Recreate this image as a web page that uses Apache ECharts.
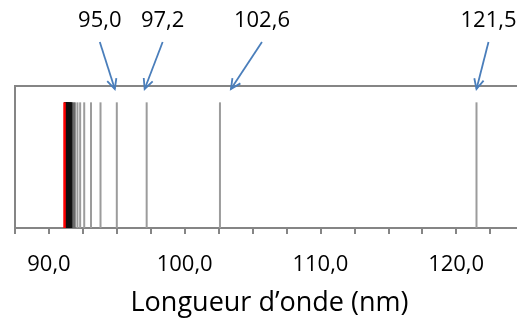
<!DOCTYPE html>
<html>
<head>
<meta charset="utf-8">
<script src="https://cdn.jsdelivr.net/npm/echarts@6/dist/echarts.min.js"></script>
<style>
  html, body { margin: 0; padding: 0; background: #fff; }
  #chart { width: 517px; height: 322px; }
</style>
</head>
<body>
<div id="chart"></div>
<script>
// raies de la série de Lyman (nm)
const raies = [121.5, 102.6, 97.2, 95.0, 93.8, 93.1, 92.6, 92.3, 92.1, 91.9, 91.8,
  91.7, 91.65, 91.6, 91.55, 91.5, 91.45, 91.42, 91.39, 91.36, 91.33, 91.3, 91.28,
  91.26, 91.24, 91.22, 91.2, 91.18];
const limite = [91.15];
const annotees = [95.0, 97.2, 102.6, 121.5];
const ticksLabels = [90, 100, 110, 120];

const fmt = v => v.toFixed(1).replace('.', ',');

// décalages des étiquettes / pointes de flèche (px)
const labelDx = [-17, 16, 42, 12];
const tipDx = [-2, -2, 11, 0];

const chart = echarts.init(document.getElementById('chart'));

function raieColor(v) {
  if (v < 91.7) return '#111111';
  if (v < 92.0) return '#6a6a6a';
  return '#9c9c9c';
}

function renderRaie(color, width) {
  return function (params, api) {
    const v = api.value(0);
    const p0 = api.coord([v, 0]);
    const p1 = api.coord([v, 1]);
    return {
      type: 'line',
      shape: { x1: p0[0], y1: p0[1], x2: p1[0], y2: p1[1] },
      style: { stroke: color || raieColor(v), lineWidth: width }
    };
  };
}

function renderAnnot(params, api) {
  const i = params.dataIndex;
  const v = api.value(0);
  const top = api.coord([v, 1.13]);
  const tx = top[0] + tipDx[i];
  const ty = top[1] + 3;
  const sx = top[0] + labelDx[i];
  const sy = ty - 47;
  const ang = Math.atan2(ty - sy, tx - sx);
  const L = 11, a = 0.45;
  const blue = '#4a7ebb';
  return {
    type: 'group',
    children: [
      {
        type: 'line',
        shape: { x1: sx, y1: sy, x2: tx, y2: ty },
        style: { stroke: blue, lineWidth: 1.8 }
      },
      {
        type: 'polyline',
        shape: {
          points: [
            [tx - L * Math.cos(ang - a), ty - L * Math.sin(ang - a)],
            [tx, ty],
            [tx - L * Math.cos(ang + a), ty - L * Math.sin(ang + a)]
          ]
        },
        style: { stroke: blue, lineWidth: 1.8, fill: null }
      },
      {
        type: 'text',
        style: {
          text: fmt(v),
          x: sx,
          y: ty - 68,
          align: 'center',
          verticalAlign: 'middle',
          fontSize: 22,
          fontFamily: 'Open Sans',
          fill: '#000'
        }
      }
    ]
  };
}

const option = {
  animation: false,
  grid: {
    left: 15,
    top: 86,
    width: 509,
    bottom: 94,
    outerBoundsMode: 'none',
    containLabel: false,
    show: true,
    borderColor: '#858585',
    borderWidth: 2
  },
  xAxis: {
    type: 'value',
    min: 87.5,
    max: 125,
    interval: 2.5,
    name: 'Longueur d\u2019onde (nm)',
    nameLocation: 'middle',
    nameGap: 62,
    nameTextStyle: { fontSize: 27, fontFamily: 'Open Sans', color: '#000' },
    axisLine: { lineStyle: { color: '#858585', width: 2 } },
    axisTick: { show: true, inside: false, length: 6, lineStyle: { color: '#858585', width: 2 } },
    axisLabel: {
      margin: 26,
      fontSize: 22,
      fontFamily: 'Open Sans',
      color: '#000',
      hideOverlap: false,
      formatter: v => (ticksLabels.indexOf(v) >= 0 ? fmt(v) : '')
    },
    splitLine: { show: false }
  },
  yAxis: {
    type: 'value',
    min: 0,
    max: 1.13,
    show: false
  },
  series: [
    {
      type: 'custom',
      data: raies.map(v => [v]),
      encode: { x: 0 },
      renderItem: renderRaie(null, 2),
      z: 2
    },
    {
      type: 'custom',
      data: limite.map(v => [v]),
      encode: { x: 0 },
      renderItem: renderRaie('#ff0000', 2.5),
      z: 3
    },
    {
      type: 'custom',
      data: annotees.map(v => [v]),
      encode: { x: 0 },
      renderItem: renderAnnot,
      clip: false,
      z: 5
    }
  ]
};

chart.setOption(option);
</script>
</body>
</html>
